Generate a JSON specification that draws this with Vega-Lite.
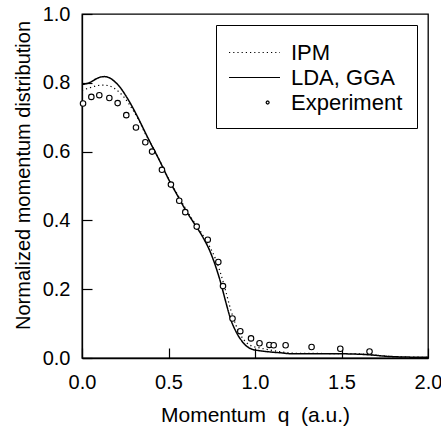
{
  "$schema": "https://vega.github.io/schema/vega-lite/v6.json",
  "width": 346,
  "height": 344,
  "autosize": "none",
  "padding": {"left": 82, "top": 14, "right": 13, "bottom": 76},
  "background": "white",
  "config": {
    "view": {"stroke": "black", "strokeWidth": 1.3},
    "font": "Liberation Sans",
    "axis": {
      "grid": false,
      "domainColor": "black",
      "domainWidth": 1.3,
      "tickColor": "black",
      "tickWidth": 1.2,
      "tickSize": -10,
      "labelColor": "black",
      "titleColor": "black",
      "labelFont": "Liberation Sans",
      "titleFont": "Liberation Sans",
      "labelFontSize": 20,
      "titleFontSize": 20,
      "titleFontWeight": "normal"
    }
  },
  "data": {
    "values": [
      {"series": "LDA, GGA", "q": 0.0, "n": 0.795},
      {"series": "LDA, GGA", "q": 0.02, "n": 0.797},
      {"series": "LDA, GGA", "q": 0.05, "n": 0.802},
      {"series": "LDA, GGA", "q": 0.08, "n": 0.811},
      {"series": "LDA, GGA", "q": 0.11, "n": 0.817},
      {"series": "LDA, GGA", "q": 0.13, "n": 0.818},
      {"series": "LDA, GGA", "q": 0.16, "n": 0.814},
      {"series": "LDA, GGA", "q": 0.19, "n": 0.803},
      {"series": "LDA, GGA", "q": 0.22, "n": 0.787},
      {"series": "LDA, GGA", "q": 0.25, "n": 0.765},
      {"series": "LDA, GGA", "q": 0.28, "n": 0.74},
      {"series": "LDA, GGA", "q": 0.31, "n": 0.712},
      {"series": "LDA, GGA", "q": 0.34, "n": 0.682},
      {"series": "LDA, GGA", "q": 0.37, "n": 0.651},
      {"series": "LDA, GGA", "q": 0.4, "n": 0.621},
      {"series": "LDA, GGA", "q": 0.45, "n": 0.572},
      {"series": "LDA, GGA", "q": 0.5, "n": 0.52},
      {"series": "LDA, GGA", "q": 0.55, "n": 0.474},
      {"series": "LDA, GGA", "q": 0.6, "n": 0.429},
      {"series": "LDA, GGA", "q": 0.65, "n": 0.39},
      {"series": "LDA, GGA", "q": 0.7, "n": 0.35},
      {"series": "LDA, GGA", "q": 0.74, "n": 0.31},
      {"series": "LDA, GGA", "q": 0.77, "n": 0.27},
      {"series": "LDA, GGA", "q": 0.8, "n": 0.222},
      {"series": "LDA, GGA", "q": 0.83, "n": 0.165},
      {"series": "LDA, GGA", "q": 0.86, "n": 0.112},
      {"series": "LDA, GGA", "q": 0.89, "n": 0.077},
      {"series": "LDA, GGA", "q": 0.92, "n": 0.052},
      {"series": "LDA, GGA", "q": 0.95, "n": 0.035},
      {"series": "LDA, GGA", "q": 0.98, "n": 0.026},
      {"series": "LDA, GGA", "q": 1.03, "n": 0.021},
      {"series": "LDA, GGA", "q": 1.1, "n": 0.017},
      {"series": "LDA, GGA", "q": 1.15, "n": 0.015},
      {"series": "LDA, GGA", "q": 1.22, "n": 0.012},
      {"series": "LDA, GGA", "q": 1.42, "n": 0.012},
      {"series": "LDA, GGA", "q": 1.53, "n": 0.012},
      {"series": "LDA, GGA", "q": 1.6, "n": 0.011},
      {"series": "LDA, GGA", "q": 1.67, "n": 0.009},
      {"series": "LDA, GGA", "q": 1.76, "n": 0.005},
      {"series": "LDA, GGA", "q": 1.85, "n": 0.003},
      {"series": "LDA, GGA", "q": 2.0, "n": 0.002},
      {"series": "IPM", "q": 0.0, "n": 0.778},
      {"series": "IPM", "q": 0.03, "n": 0.783},
      {"series": "IPM", "q": 0.06, "n": 0.788},
      {"series": "IPM", "q": 0.09, "n": 0.792},
      {"series": "IPM", "q": 0.12, "n": 0.793},
      {"series": "IPM", "q": 0.15, "n": 0.792},
      {"series": "IPM", "q": 0.18, "n": 0.786},
      {"series": "IPM", "q": 0.21, "n": 0.775},
      {"series": "IPM", "q": 0.24, "n": 0.76},
      {"series": "IPM", "q": 0.27, "n": 0.74},
      {"series": "IPM", "q": 0.3, "n": 0.716},
      {"series": "IPM", "q": 0.33, "n": 0.69},
      {"series": "IPM", "q": 0.36, "n": 0.658},
      {"series": "IPM", "q": 0.4, "n": 0.622},
      {"series": "IPM", "q": 0.45, "n": 0.573},
      {"series": "IPM", "q": 0.5, "n": 0.522},
      {"series": "IPM", "q": 0.55, "n": 0.477},
      {"series": "IPM", "q": 0.6, "n": 0.433},
      {"series": "IPM", "q": 0.65, "n": 0.394},
      {"series": "IPM", "q": 0.7, "n": 0.356},
      {"series": "IPM", "q": 0.74, "n": 0.322},
      {"series": "IPM", "q": 0.77, "n": 0.29},
      {"series": "IPM", "q": 0.8, "n": 0.248},
      {"series": "IPM", "q": 0.83, "n": 0.196},
      {"series": "IPM", "q": 0.86, "n": 0.14},
      {"series": "IPM", "q": 0.89, "n": 0.095},
      {"series": "IPM", "q": 0.92, "n": 0.064},
      {"series": "IPM", "q": 0.95, "n": 0.045},
      {"series": "IPM", "q": 0.98, "n": 0.035},
      {"series": "IPM", "q": 1.02, "n": 0.03},
      {"series": "IPM", "q": 1.08, "n": 0.024},
      {"series": "IPM", "q": 1.15, "n": 0.018},
      {"series": "IPM", "q": 1.22, "n": 0.014},
      {"series": "IPM", "q": 1.42, "n": 0.013},
      {"series": "IPM", "q": 1.6, "n": 0.012},
      {"series": "IPM", "q": 1.7, "n": 0.008},
      {"series": "IPM", "q": 1.8, "n": 0.004},
      {"series": "IPM", "q": 2.0, "n": 0.002},
      {"series": "Experiment", "q": 0.006, "n": 0.74},
      {"series": "Experiment", "q": 0.054, "n": 0.759},
      {"series": "Experiment", "q": 0.1, "n": 0.764},
      {"series": "Experiment", "q": 0.158, "n": 0.756},
      {"series": "Experiment", "q": 0.206, "n": 0.741},
      {"series": "Experiment", "q": 0.256, "n": 0.706},
      {"series": "Experiment", "q": 0.312, "n": 0.67},
      {"series": "Experiment", "q": 0.366, "n": 0.627},
      {"series": "Experiment", "q": 0.405, "n": 0.6},
      {"series": "Experiment", "q": 0.462, "n": 0.547},
      {"series": "Experiment", "q": 0.514, "n": 0.504},
      {"series": "Experiment", "q": 0.562, "n": 0.457},
      {"series": "Experiment", "q": 0.597, "n": 0.424},
      {"series": "Experiment", "q": 0.663, "n": 0.382},
      {"series": "Experiment", "q": 0.727, "n": 0.344},
      {"series": "Experiment", "q": 0.788, "n": 0.279},
      {"series": "Experiment", "q": 0.815, "n": 0.209},
      {"series": "Experiment", "q": 0.87, "n": 0.115},
      {"series": "Experiment", "q": 0.915, "n": 0.078},
      {"series": "Experiment", "q": 0.977, "n": 0.057},
      {"series": "Experiment", "q": 1.026, "n": 0.043},
      {"series": "Experiment", "q": 1.083, "n": 0.038},
      {"series": "Experiment", "q": 1.108, "n": 0.037},
      {"series": "Experiment", "q": 1.177, "n": 0.037},
      {"series": "Experiment", "q": 1.327, "n": 0.032},
      {"series": "Experiment", "q": 1.493, "n": 0.027},
      {"series": "Experiment", "q": 1.662, "n": 0.019}
    ]
  },
  "encoding": {
    "x": {
      "field": "q",
      "type": "quantitative",
      "scale": {"domain": [0, 2], "nice": false},
      "axis": {
        "title": "Momentum\u00a0\u00a0q\u00a0\u00a0(a.u.)",
        "titleFontSize": 21,
        "values": [0, 0.5, 1, 1.5, 2],
        "format": ".1f",
        "labelPadding": 24,
        "titlePadding": 12,
        "labelFlush": false
      }
    },
    "y": {
      "field": "n",
      "type": "quantitative",
      "scale": {"domain": [0, 1], "nice": false},
      "axis": {
        "title": "Normalized momentum distribution",
        "values": [0, 0.2, 0.4, 0.6, 0.8, 1.0],
        "format": ".1f",
        "labelPadding": 22,
        "titlePadding": 9,
        "titleY": 161,
        "labelFlush": false
      }
    }
  },
  "layer": [
    {
      "transform": [{"filter": "datum.series !== 'Experiment'"}],
      "mark": {"type": "line", "color": "black", "interpolate": "monotone"},
      "encoding": {
        "strokeDash": {
          "field": "series",
          "type": "nominal",
          "scale": {
            "domain": ["IPM", "LDA, GGA", "Experiment"],
            "range": [[1.2, 3], [1, 0], [1, 0]]
          },
          "legend": {
            "title": null,
            "orient": "none",
            "legendX": 134,
            "legendY": 11,
            "padding": 14,
            "strokeColor": "black",
            "symbolSize": 625,
            "symbolOffset": 11,
            "labelOffset": 23,
            "labelFontSize": 22,
            "labelColor": "black",
            "labelFont": "Liberation Sans",
            "rowPadding": 0,
            "symbolStrokeColor": "black",
            "symbolStrokeWidth": 1.2,
            "encode": {
              "symbols": {
                "update": {
                  "shape": {"signal": "datum.value === 'Experiment' ? 'M1.17,0L1.135,0.085L1.05,0.12L0.965,0.085L0.93,0L0.965,-0.085L1.05,-0.12L1.135,-0.085Z' : 'M-2.04,0H2.04'"},
                  "stroke": {"value": "black"},
                  "fill": {"signal": "datum.value === 'Experiment' ? 'white' : 'transparent'"}
                }
              }
            }
          }
        },
        "strokeWidth": {
          "field": "series",
          "type": "nominal",
          "scale": {"domain": ["IPM", "LDA, GGA"], "range": [1.2, 1.5]},
          "legend": null
        }
      }
    },
    {
      "transform": [{"filter": "datum.series === 'Experiment'"}],
      "mark": {"type": "point", "shape": "circle", "size": 30, "stroke": "black", "fill": "white", "filled": false, "strokeWidth": 1.1, "opacity": 1}
    }
  ]
}
